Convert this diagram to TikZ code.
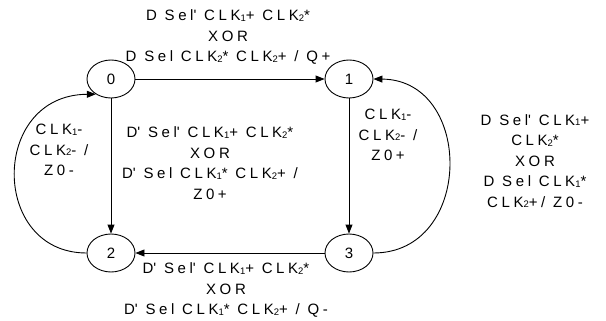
\documentclass[tikz,border=0pt]{standalone}
\usepackage{fontspec}
\setmainfont{Liberation Sans}[LetterSpace=24]
\usetikzlibrary{arrows.meta,shapes.geometric}
% small lowered digit used in the clock names
\newcommand\lo[1]{{\fontsize{9.5}{9.5}\selectfont\raisebox{-0.6pt}{#1}}}
\newcommand\q{\textquotesingle}
\begin{document}
\begin{tikzpicture}[x=1pt,y=-1pt,
  state/.style={draw, ellipse, minimum width=48pt, minimum height=38pt,
    inner sep=0pt, line width=0.9pt, font=\fontsize{15}{15}\selectfont},
  lbl/.style={align=center, inner sep=0pt, font=\fontsize{15}{20.5}\selectfont},
  arr/.style={-{Triangle[length=9pt,width=7pt]}, line width=0.9pt},
]
\useasboundingbox (0,0) rectangle (606,321);

% states
\node[state] (s0) at (111,79) {0};
\node[state] (s1) at (349,79) {1};
\node[state] (s2) at (111,253) {2};
\node[state] (s3) at (349,253) {3};

% transitions
\draw[arr] (s0) -- (s1);
\draw[arr] (s0) -- (s2);
\draw[arr] (s1) -- (s3);
\draw[arr] (s3) -- (s2);
\draw[arr] (s2.west) .. controls (-10,253) and (-10,95) .. (s0.225);
\draw[arr] (s3.east) .. controls (474,253) and (474,80) .. (s1.east);

% transition conditions
\node[lbl] (ltop) at (228,37) {D Sel\q{} CLK\lo{1}+ CLK\lo{2}*\\XOR\\D Sel CLK\lo{2}* CLK\lo{2}+ / Q+};
\node[lbl] (lmid) at (210,163) {D\q{} Sel\q{} CLK\lo{1}+ CLK\lo{2}*\\XOR\\D\q{} Sel CLK\lo{1}* CLK\lo{2}+ /\\Z0+};
\node[lbl] (lleft) at (59,150) {CLK\lo{1}-\\CLK\lo{2}- /\\Z0-};
\node[lbl] (lrmid) at (388,135) {CLK\lo{1}-\\CLK\lo{2}- /\\Z0+};
\node[lbl] (lright) at (535,161) {D Sel\q{} CLK\lo{1}+\\CLK\lo{2}*\\XOR\\D Sel CLK\lo{1}*\\CLK\lo{2}+/ Z0-};
\node[lbl] (lbot) at (226,290) {D\q{} Sel\q{} CLK\lo{1}+ CLK\lo{2}*\\XOR\\D\q{} Sel CLK\lo{1}* CLK\lo{2}+ / Q-};
\end{tikzpicture}
\end{document}
